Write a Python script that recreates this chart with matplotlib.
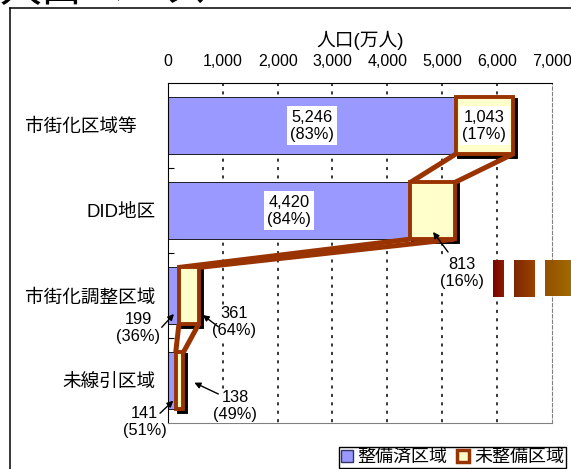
import numpy as np
import matplotlib
matplotlib.use('Agg')
import matplotlib.pyplot as plt
from matplotlib.patches import Patch
from matplotlib.lines import Line2D
from matplotlib.transforms import offset_copy

plt.rcParams['font.family'] = ['Liberation Sans', 'Noto Sans CJK JP']

# population (10k persons), by area type
categories = ['市街化区域等\u3000', 'DID地区', '市街化調整区域', '未線引区域']
seibi_done = [5246, 4420, 199, 141]     # 整備済区域
seibi_not = [1043, 813, 361, 138]       # 未整備区域
x_ticks = [0, 1000, 2000, 3000, 4000, 5000, 6000, 7000]

BLUE = '#9999FF'
CREAM = '#FFFFCC'
BROWN = '#993300'

# callouts for the small boxes: (bar, which part, text pos, arrow tail, arrow head)
callouts = [
    (1, 'not', (5364, 2.232), (5109, 1.985), (4835, 1.749)),
    (2, 'not', (1204, 2.805), (918, 2.864), (633, 2.726)),
    (2, 'done', (-547, 2.879), (-115, 2.871), (109, 2.714)),
    (3, 'not', (1222, 3.796), (918, 3.655), (480, 3.522)),
    (3, 'done', (-429, 3.985), (-146, 3.882), (97, 3.734)),
]

fig = plt.figure(figsize=(5.71, 4.69), dpi=100)
ax = fig.add_axes([168 / 571, 1 - 423.3 / 469, (551.7 - 168) / 571, (423.3 - 83.3) / 469])

done = np.array(seibi_done)
rest = np.array(seibi_not)
total = done + rest
y = np.arange(len(categories)) + 0.5
h = 0.667

ax.set_xlim(0, 7000)
ax.set_ylim(len(categories), 0)

# dotted grid, inner lines only
ax.vlines(x_ticks[1:-1], 0, len(categories), colors='black', linestyles=(0, (2, 3.5)), lw=1.1, zorder=1)

ax.barh(y, done, height=h, color=BLUE, edgecolor='black', lw=0.6, zorder=2)
shadow = ax.barh(y, rest, left=done, height=h, color='black', edgecolor='black', lw=2.8, zorder=3)
off = offset_copy(ax.transData, fig=fig, x=3, y=-3, units='dots')
for p in shadow:
    p.set_transform(off)
ax.barh(y, rest, left=done, height=h, color=CREAM, edgecolor=BROWN, lw=2.8, zorder=5)

# connectors between the 未整備 boxes
for i in range(len(categories) - 1):
    yb = y[i] + h / 2
    yt = y[i + 1] - h / 2
    ax.plot([done[i], done[i + 1]], [yb, yt], color=BROWN, lw=3.6, zorder=4, solid_capstyle='butt')
    ax.plot([total[i], total[i + 1]], [yb, yt], color=BROWN, lw=3.6, zorder=4, solid_capstyle='butt')

def label(v, t):
    return '{:,}\n({}%)'.format(v, round(v / t * 100))

box = dict(boxstyle='square,pad=0.2', fc='white', ec='none')
for i in range(2):
    ax.text(done[i] / 2, y[i], label(done[i], total[i]), ha='center', va='center',
            fontsize=11.8, linespacing=1.2, bbox=box, zorder=6)
ax.text(done[0] + rest[0] / 2, y[0], label(rest[0], total[0]), ha='center', va='center',
        fontsize=11.8, linespacing=1.2, bbox=box, zorder=6)

for i, part, txt, tail, head in callouts:
    v = rest[i] if part == 'not' else done[i]
    ax.text(txt[0], txt[1], label(v, total[i]), ha='center', va='center', fontsize=11.8,
            linespacing=1.2, bbox=dict(boxstyle='square,pad=0.05', fc='white', ec='none'),
            zorder=6, clip_on=False)
    ax.annotate('', xy=head, xytext=tail, annotation_clip=False,
                arrowprops=dict(arrowstyle='-|>', color='black', lw=1.0,
                                shrinkA=0, shrinkB=0, mutation_scale=9), zorder=7)

# axes styling
ax.xaxis.tick_top()
ax.xaxis.set_label_position('top')
ax.set_xticks(x_ticks, ['{:,}'.format(v) for v in x_ticks])
ax.tick_params(axis='x', length=0, pad=10, labelsize=11.5)
ax.set_xlabel('人口(万人)', fontsize=13.5, labelpad=6)

ax.set_yticks(y, categories)
ax.set_yticks(np.arange(1, len(categories)), minor=True)
ax.tick_params(axis='y', which='major', length=0, pad=9, labelsize=13.4)
ax.tick_params(axis='y', which='minor', direction='in', length=4, width=0.8)

ax.spines['top'].set_color('black')
ax.spines['left'].set_color('black')
ax.spines['right'].set_color('#808080')
ax.spines['right'].set_linestyle((0, (3, 2)))
ax.spines['bottom'].set_color('#808080')

# slide frame and heading cut at the top
fig.add_artist(Line2D([9.5 / 571, 9.5 / 571], [1 - 8.5 / 469, 0], color='black', lw=1.1,
                      transform=fig.transFigure))
fig.add_artist(Line2D([9.5 / 571, 1], [1 - 8.5 / 469, 1 - 8.5 / 469], color='black', lw=1.1,
                      transform=fig.transFigure))
fig.text(0.0, 1 - 2.5 / 469, '人口ベース', fontsize=30, va='baseline', family='Noto Sans CJK JP')

# colour swatches on the right
def grad(c0, c1, w, hh):
    a = np.array(matplotlib.colors.to_rgb(c0))
    b = np.array(matplotlib.colors.to_rgb(c1))
    t = np.linspace(0, 1, w)[None, :, None]
    return np.repeat(a + (b - a) * t, hh, axis=0)

fig.figimage(grad('#7a0600', '#8a1a00', 11, 37), 493, 172, zorder=10)
fig.figimage(grad('#7e2800', '#9a4200', 21, 37), 514, 172, zorder=10)
fig.figimage(grad('#945000', '#a06a00', 26, 36), 545, 173, zorder=10)

handles = [Patch(facecolor=BLUE, edgecolor='#333366', lw=1),
           Patch(facecolor=CREAM, edgecolor=BROWN, lw=2.5)]
fig.legend(handles, ['整備済区域', '未整備区域'], loc='lower right', ncol=2,
           bbox_to_anchor=(565.7 / 571, 1 / 469), fontsize=13, handlelength=0.7,
           handleheight=0.7, handletextpad=0.25, columnspacing=0.5, borderpad=0.1,
           borderaxespad=0, fancybox=False, edgecolor='black', framealpha=1)
fig.legends[0].get_frame().set_linewidth(1)

fig.savefig('out.png', dpi=100)
